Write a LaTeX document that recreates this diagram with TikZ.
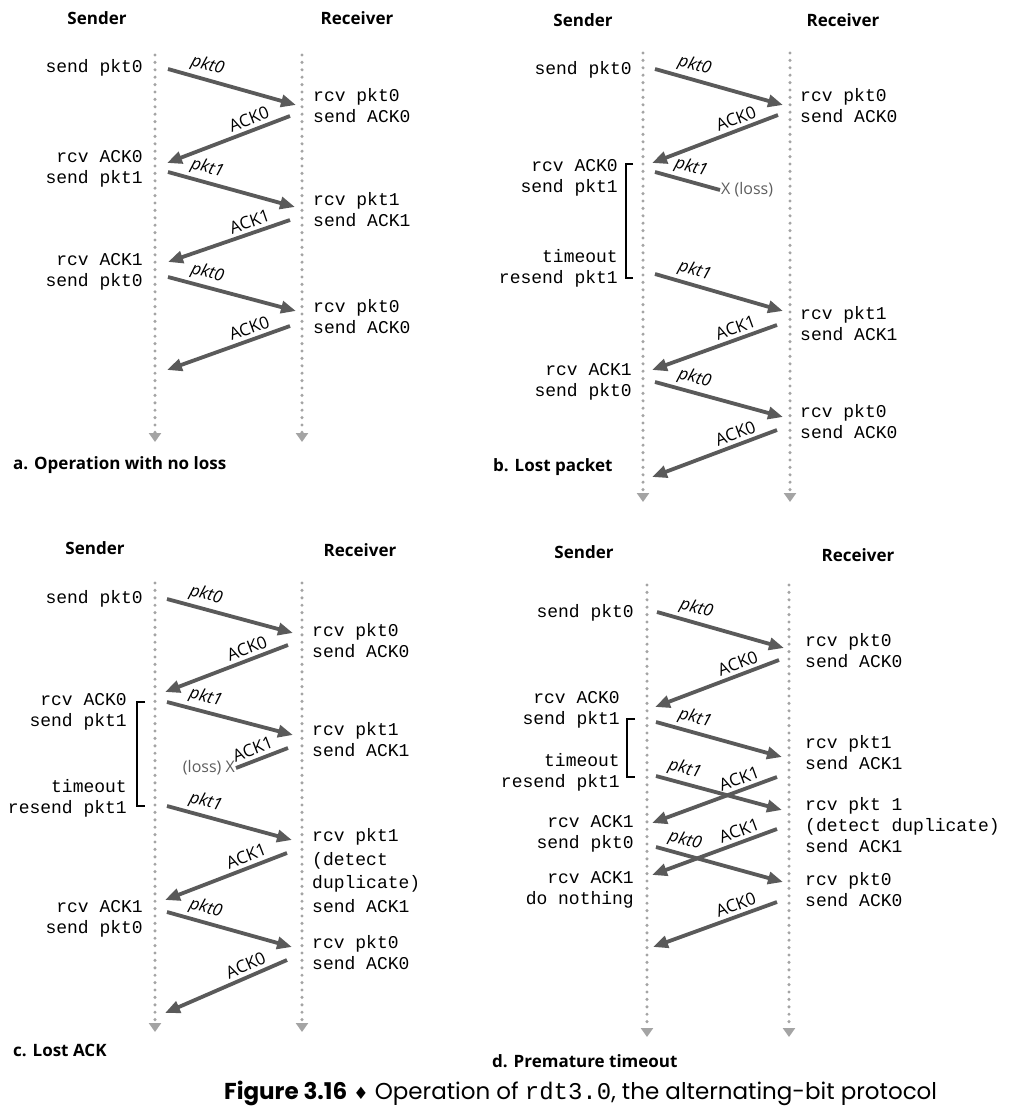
\documentclass[tikz,border=0pt]{standalone}
\usepackage{fontspec}
\setmainfont{Open Sans}
\setmonofont{Liberation Mono}
\newfontfamily\capfont{Poppins}
\newfontfamily\symfont{DejaVu Sans}
\usetikzlibrary{arrows.meta}

\definecolor{msggray}{HTML}{5A5A5A}
\definecolor{dotgray}{HTML}{A4A4A4}
\definecolor{lossgray}{HTML}{5E5E5E}

\tikzset{
  head/.style={font=\fontsize{17}{20}\selectfont\bfseries, inner sep=0pt},
  panel/.style={font=\fontsize{17}{20}\selectfont\bfseries, anchor=west, inner sep=0pt},
  evtS/.style={font=\fontsize{18}{21}\selectfont\ttfamily, align=right, anchor=base east, inner sep=0pt},
  evtR/.style={font=\fontsize{18}{21}\selectfont\ttfamily, align=left, anchor=base west, inner sep=0pt},
  life/.style={draw=dotgray, line width=3.4pt, line cap=round, dash pattern=on 0pt off 7.4pt,
    -{Triangle[length=9pt,width=12pt]}},
  msg/.style={draw=msggray, line width=3.8pt, -{Triangle[length=15pt,width=12pt]}},
  lost/.style={draw=msggray, line width=3.8pt},
  pkt/.style={font=\fontsize{17}{20}\selectfont\itshape, sloped, above, pos=0.28, inner sep=3.5pt},
  ack/.style={font=\fontsize{17}{20}\selectfont, sloped, above, pos=0.3, inner sep=3.5pt},
  loss/.style={font=\fontsize{16}{19}\selectfont, text=lossgray, inner sep=1pt},
  brk/.style={draw=black, line width=1.1pt},
  caption/.style={font=\fontsize{23}{27}\selectfont\capfont, anchor=west, inner sep=0pt}
}

\begin{document}
\begin{tikzpicture}[x=1pt, y=-1pt]
  \useasboundingbox [fill=white] (0,0) rectangle (1027,1113);

  % ---------------- a. no loss
  \node (aSnd) [head] at (97,18) {Sender};
  \node (aRcv) [head] at (357,18) {Receiver};
  \coordinate (aStop) at (155,55);  \coordinate (aSbot) at (155,442);
  \coordinate (aRtop) at (302,55);  \coordinate (aRbot) at (302,442);
  \draw [life] (aStop) -- (aSbot);
  \draw [life] (aRtop) -- (aRbot);

  \node (aE1) [evtS] at (143,73) {send pkt0};
  \node (aE2) [evtR] at (313,123) {rcv pkt0\\send ACK0};
  \node (aE3) [evtS] at (143,183) {rcv ACK0\\send pkt1};
  \node (aE4) [evtR] at (313,226) {rcv pkt1\\send ACK1};
  \node (aE5) [evtS] at (143,286) {rcv ACK1\\send pkt0};
  \node (aE6) [evtR] at (313,333) {rcv pkt0\\send ACK0};

  \coordinate (aM1s) at (168,69);  \coordinate (aM1e) at (296,105);
  \coordinate (aM2s) at (290,116); \coordinate (aM2e) at (167,163);
  \coordinate (aM3s) at (168,172); \coordinate (aM3e) at (295,207);
  \coordinate (aM4s) at (290,220); \coordinate (aM4e) at (168,262);
  \coordinate (aM5s) at (168,277); \coordinate (aM5e) at (296,311);
  \coordinate (aM6s) at (290,326); \coordinate (aM6e) at (167,370);
  \draw [msg] (aM1s) -- node [pkt] {pkt0} (aM1e);
  \draw [msg] (aM2s) -- node [ack] {ACK0} (aM2e);
  \draw [msg] (aM3s) -- node [pkt] {pkt1} (aM3e);
  \draw [msg] (aM4s) -- node [ack] {ACK1} (aM4e);
  \draw [msg] (aM5s) -- node [pkt] {pkt0} (aM5e);
  \draw [msg] (aM6s) -- node [ack] {ACK0} (aM6e);

  \node (aTitle) [panel] at (13,465) {a. Operation with no loss};

  % ---------------- b. lost packet
  \node (bSnd) [head] at (583,20) {Sender};
  \node (bRcv) [head] at (843,20) {Receiver};
  \coordinate (bStop) at (643,53);  \coordinate (bSbot) at (643,502);
  \coordinate (bRtop) at (790,53);  \coordinate (bRbot) at (790,502);
  \draw [life] (bStop) -- (bSbot);
  \draw [life] (bRtop) -- (bRbot);

  \node (bE1) [evtS] at (632,75) {send pkt0};
  \node (bE2) [evtR] at (800,123) {rcv pkt0\\send ACK0};
  \node (bE3) [evtS] at (618,192) {rcv ACK0\\send pkt1};
  \node (bE4) [evtS] at (618,283) {timeout\\resend pkt1};
  \node (bE5) [evtR] at (800,340) {rcv pkt1\\send ACK1};
  \node (bE6) [evtS] at (632,396) {rcv ACK1\\send pkt0};
  \node (bE7) [evtR] at (800,438) {rcv pkt0\\send ACK0};

  \coordinate (bBrTop) at (633,164); \coordinate (bBrBot) at (633,278);
  \draw [brk] (bBrTop) -- ++(-7,0) |- (bBrBot);

  \coordinate (bM1s) at (655,69);  \coordinate (bM1e) at (783,105);
  \coordinate (bM2s) at (778,115); \coordinate (bM2e) at (652,163);
  \coordinate (bM3s) at (655,172); \coordinate (bM3e) at (720,190);
  \coordinate (bM4s) at (655,274); \coordinate (bM4e) at (783,311);
  \coordinate (bM5s) at (777,325); \coordinate (bM5e) at (652,370);
  \coordinate (bM6s) at (655,382); \coordinate (bM6e) at (783,417);
  \coordinate (bM7s) at (777,430); \coordinate (bM7e) at (652,477);
  \draw [msg] (bM1s) -- node [pkt] {pkt0} (bM1e);
  \draw [msg] (bM2s) -- node [ack] {ACK0} (bM2e);
  \draw [lost] (bM3s) -- node [pkt, pos=0.5] {pkt1} (bM3e);
  \node (bLoss) [loss, anchor=west] at (bM3e) {X (loss)};
  \draw [msg] (bM4s) -- node [pkt] {pkt1} (bM4e);
  \draw [msg] (bM5s) -- node [ack] {ACK1} (bM5e);
  \draw [msg] (bM6s) -- node [pkt] {pkt0} (bM6e);
  \draw [msg] (bM7s) -- node [ack] {ACK0} (bM7e);

  \node (bTitle) [panel] at (493,467) {b. Lost packet};

  % ---------------- c. lost ACK
  \node (cSnd) [head] at (95,548) {Sender};
  \node (cRcv) [head] at (360,550) {Receiver};
  \coordinate (cStop) at (155,583); \coordinate (cSbot) at (155,1032);
  \coordinate (cRtop) at (302,583); \coordinate (cRbot) at (302,1032);
  \draw [life] (cStop) -- (cSbot);
  \draw [life] (cRtop) -- (cRbot);

  \node (cE1) [evtS] at (143,603) {send pkt0};
  \node (cE2) [evtR] at (312,657) {rcv pkt0\\send ACK0};
  \node (cE3) [evtS] at (127,726) {rcv ACK0\\send pkt1};
  \node (cE4) [evtR] at (312,756) {rcv pkt1\\send ACK1};
  \node (cE5) [evtS] at (127,813) {timeout\\resend pkt1};
  \node (cE6) [evtR, font=\fontsize{18}{23.5}\selectfont\ttfamily] at (312,912)
    {rcv pkt1\\(detect\\duplicate)\\send ACK1};
  \node (cE7) [evtS] at (143,933) {rcv ACK1\\send pkt0};
  \node (cE8) [evtR] at (312,969) {rcv pkt0\\send ACK0};

  \coordinate (cBrTop) at (145,702); \coordinate (cBrBot) at (145,806);
  \draw [brk] (cBrTop) -- ++(-8,0) |- (cBrBot);

  \coordinate (cM1s) at (167,599); \coordinate (cM1e) at (293,633);
  \coordinate (cM2s) at (288,645); \coordinate (cM2e) at (165,692);
  \coordinate (cM3s) at (167,702); \coordinate (cM3e) at (293,735);
  \coordinate (cM4s) at (288,748); \coordinate (cM4e) at (236,768);
  \coordinate (cM5s) at (167,806); \coordinate (cM5e) at (292,840);
  \coordinate (cM6s) at (287,853); \coordinate (cM6e) at (165,900);
  \coordinate (cM7s) at (167,912); \coordinate (cM7e) at (292,947);
  \coordinate (cM8s) at (287,960); \coordinate (cM8e) at (165,1013);
  \draw [msg] (cM1s) -- node [pkt] {pkt0} (cM1e);
  \draw [msg] (cM2s) -- node [ack] {ACK0} (cM2e);
  \draw [msg] (cM3s) -- node [pkt] {pkt1} (cM3e);
  \draw [lost] (cM4s) -- node [ack, pos=0.6] {ACK1} (cM4e);
  \node (cLoss) [loss, anchor=east] at (cM4e) {(loss) X};
  \draw [msg] (cM5s) -- node [pkt] {pkt1} (cM5e);
  \draw [msg] (cM6s) -- node [ack] {ACK1} (cM6e);
  \draw [msg] (cM7s) -- node [pkt] {pkt0} (cM7e);
  \draw [msg] (cM8s) -- node [ack] {ACK0} (cM8e);

  \node (cTitle) [panel] at (13,1050) {c. Lost ACK};

  % ---------------- d. premature timeout
  \node (dSnd) [head] at (584,552) {Sender};
  \node (dRcv) [head] at (858,555) {Receiver};
  \coordinate (dStop) at (647,585); \coordinate (dSbot) at (647,1037);
  \coordinate (dRtop) at (789,585); \coordinate (dRbot) at (789,1037);
  \draw [life] (dStop) -- (dSbot);
  \draw [life] (dRtop) -- (dRbot);

  \node (dE1) [evtS] at (634,617) {send pkt0};
  \node (dE2) [evtR] at (805,667) {rcv pkt0\\send ACK0};
  \node (dE3) [evtS] at (620,724) {rcv ACK0\\send pkt1};
  \node (dE4) [evtR] at (805,769) {rcv pkt1\\send ACK1};
  \node (dE5) [evtS] at (620,787) {timeout\\resend pkt1};
  \node (dE6) [evtR] at (805,852) {rcv pkt 1\\(detect duplicate)\\send ACK1};
  \node (dE7) [evtS] at (634,848) {rcv ACK1\\send pkt0};
  \node (dE8) [evtS] at (634,904) {rcv ACK1\\do nothing};
  \node (dE9) [evtR] at (805,906) {rcv pkt0\\send ACK0};

  \coordinate (dBrTop) at (635,719); \coordinate (dBrBot) at (635,777);
  \draw [brk] (dBrTop) -- ++(-8,0) |- (dBrBot);

  \coordinate (dM1s) at (657,612); \coordinate (dM1e) at (784,648);
  \coordinate (dM2s) at (779,660); \coordinate (dM2e) at (655,707);
  \coordinate (dM3s) at (656,722); \coordinate (dM3e) at (782,757);
  \coordinate (dM4s) at (656,776); \coordinate (dM4e) at (782,810);
  \coordinate (dM5s) at (777,777); \coordinate (dM5e) at (652,823);
  \coordinate (dM6s) at (777,829); \coordinate (dM6e) at (652,875);
  \coordinate (dM7s) at (656,847); \coordinate (dM7e) at (783,882);
  \coordinate (dM8s) at (777,902); \coordinate (dM8e) at (653,947);
  \draw [msg] (dM1s) -- node [pkt] {pkt0} (dM1e);
  \draw [msg] (dM2s) -- node [ack] {ACK0} (dM2e);
  \draw [msg] (dM3s) -- node [pkt] {pkt1} (dM3e);
  \draw [msg] (dM4s) -- node [pkt, pos=0.2] {pkt1} (dM4e);
  \draw [msg] (dM5s) -- node [ack, pos=0.27] {ACK1} (dM5e);
  \draw [msg] (dM6s) -- node [ack, pos=0.27] {ACK1} (dM6e);
  \draw [msg] (dM7s) -- node [pkt, pos=0.2] {pkt0} (dM7e);
  \draw [msg] (dM8s) -- node [ack] {ACK0} (dM8e);

  \node (dTitle) [panel] at (492,1061) {d. Premature timeout};

  % ---------------- caption
  \node (figCap) [caption] at (224,1093)
    {\textbf{Figure 3.16} {\symfont\fontsize{17}{20}\selectfont ♦} Operation of {\ttfamily\fontsize{24}{27}\selectfont rdt3.0}, the alternating-bit protocol};
\end{tikzpicture}
\end{document}
